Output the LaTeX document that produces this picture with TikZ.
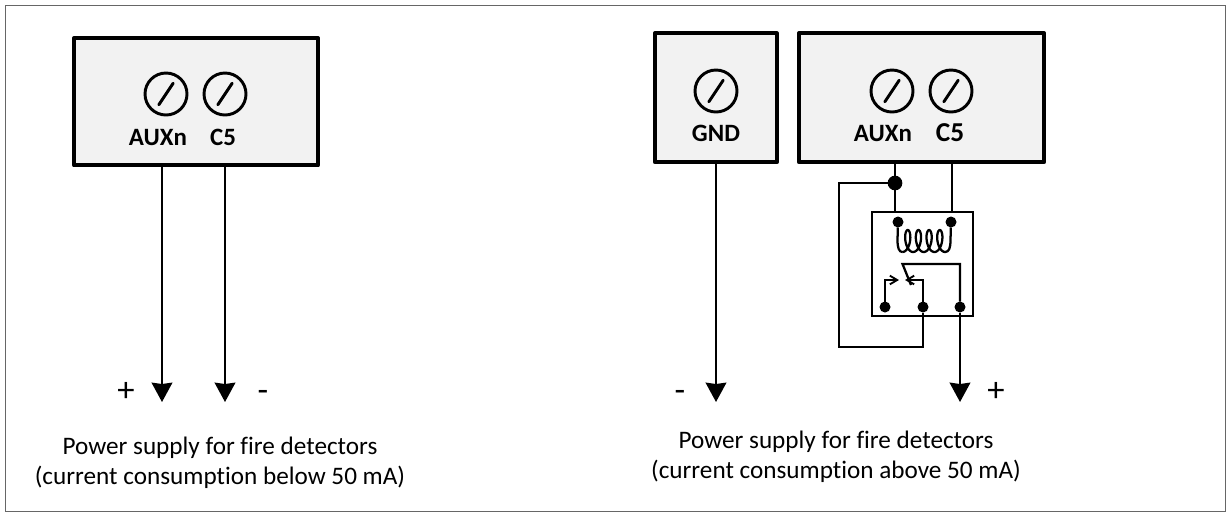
\documentclass[tikz,border=0pt]{standalone}
\usepackage{fontspec}
\setmainfont[Ligatures=NoCommon]{Carlito}
\usetikzlibrary{arrows.meta}
\definecolor{boxgray}{HTML}{F2F2F2}
\tikzset{
  x=0.75pt,y=-0.75pt,
  boxst/.style={draw=black,fill=boxgray,line width=3pt,line join=round,inner sep=0pt,outer sep=0pt,anchor=north west},
  wire/.style={draw=black,line width=1.7pt},
  thinwire/.style={draw=black,line width=1.7pt},
  feed/.style={wire,-{Stealth[length=14.5pt,width=15.5pt,inset=1pt]}},
  screw/.style={circle,draw=black,line width=2.2pt,minimum size=31.5pt,inner sep=0pt,outer sep=0pt,
    path picture={\draw[line width=2.2pt,line cap=round] ([xshift=-5.4pt,yshift=-8.1pt]path picture bounding box.center) -- ([xshift=5.4pt,yshift=8.1pt]path picture bounding box.center);}},
  termlabel/.style={font=\fontsize{18.7pt}{20pt}\selectfont\bfseries,inner sep=0pt},
  caption/.style={font=\fontsize{18.9pt}{22.5pt}\selectfont,align=center,inner sep=0pt},
  signlabel/.style={font=\fontsize{26pt}{28pt}\selectfont,inner sep=0pt},
  dotbig/.style={circle,fill=black,minimum size=11pt,inner sep=0pt,outer sep=0pt},
  dotsmall/.style={circle,fill=black,minimum size=8.25pt,inner sep=0pt,outer sep=0pt},
  openarrow/.style={-{Straight Barb[length=5.5pt,width=6.5pt,line width=1.4pt]}},
}
\begin{document}
\begin{tikzpicture}
\useasboundingbox (0,0) rectangle (1226,512);
\draw[line width=0.75pt,draw=black!60] (5.5,5.5) rectangle (1225,511);
% left box
\node[boxst,minimum width=183pt,minimum height=95.6pt] (L) at (74,38) {};
\node[screw] (la) at (166,94) {};
\node[screw] (lc) at (225,94) {};
\node[termlabel] (lat) at (158,137) {AUXn};
\node[termlabel] (lct) at (223,137) {C5};
\coordinate (lae) at (162,402);
\coordinate (lce) at (225,402);
\draw[feed] (L.south west -| lae) -- (lae);
\draw[feed] (L.south west -| lce) -- (lce);
\node[signlabel] (lp) at (126,392) {+};
\node[signlabel] (lm) at (263,396) {-};
\node[caption] (lcap) at (220,463) {Power supply for fire detectors\\(current consumption below 50 mA)};
% GND box
\node[boxst,minimum width=91.3pt,minimum height=96.7pt] (G) at (655,33.3) {};
\node[screw] (gs) at (716,91) {};
\node[termlabel] (gt) at (716,133) {GND};
\coordinate (ge) at (716,402);
\draw[feed] (G.south west -| ge) -- (ge);
\node[signlabel] (rm) at (680,396) {-};
\node[caption] (rcap) at (836,456.5) {Power supply for fire detectors\\(current consumption above 50 mA)};
% AUX box
\node[boxst,minimum width=183.75pt,minimum height=96.7pt] (A) at (799,33.3) {};
\node[screw] (as) at (892,91) {};
\node[screw] (cs) at (951,91) {};
\node[termlabel] (at) at (883,133) {AUXn};
\node[termlabel,font=\fontsize{20.5pt}{22pt}\selectfont\bfseries] (ct) at (950,133) {C5};
% relay
\node[draw=black,line width=1.7pt,minimum width=75.75pt,minimum height=78pt,inner sep=0pt,outer sep=0pt,anchor=north west] (R) at (872,212) {};
\node[dotbig] (J) at (895,183) {};
\node[dotsmall] (t1) at (898,222) {};
\node[dotsmall] (t2) at (951,222) {};
\node[dotsmall] (c1) at (885,307) {};
\node[dotsmall] (c2) at (923,307) {};
\node[dotsmall] (c3) at (960,307) {};
\coordinate (re) at (960,402);
\draw[thinwire] (A.south west -| J) -- (J) -- (R.north west -| J);
\draw[thinwire] (952,162) -- (952,212);
\draw[thinwire] (J) -- (839,183) -- (839,347) -- (923,347) -- (c2);
\draw[feed] (c3) -- (re);
\node[signlabel] (rp) at (996,392) {+};
% coil
\draw[thinwire,line join=round] (t1) -- (897.5,240) .. controls (897.5,248) and (899,252) .. (902.4,252)
  plot[domain=0:1440,samples=120,smooth,variable=\t] ({902.4+1.7*\t*pi/180+5*sin(\t)},{241+11*cos(\t)})
  .. controls (949,252) and (950.5,248) .. (950.5,240) -- (t2);
% contacts
\draw[thinwire,openarrow] (c1) -- (885,280) -- (899,280);
\draw[thinwire,openarrow] (c2) -- (923,280) -- (905,280);
\draw[thinwire] (911,285) -- (902.5,264) -- (960,264) -- (c3);
\end{tikzpicture}
\end{document}
